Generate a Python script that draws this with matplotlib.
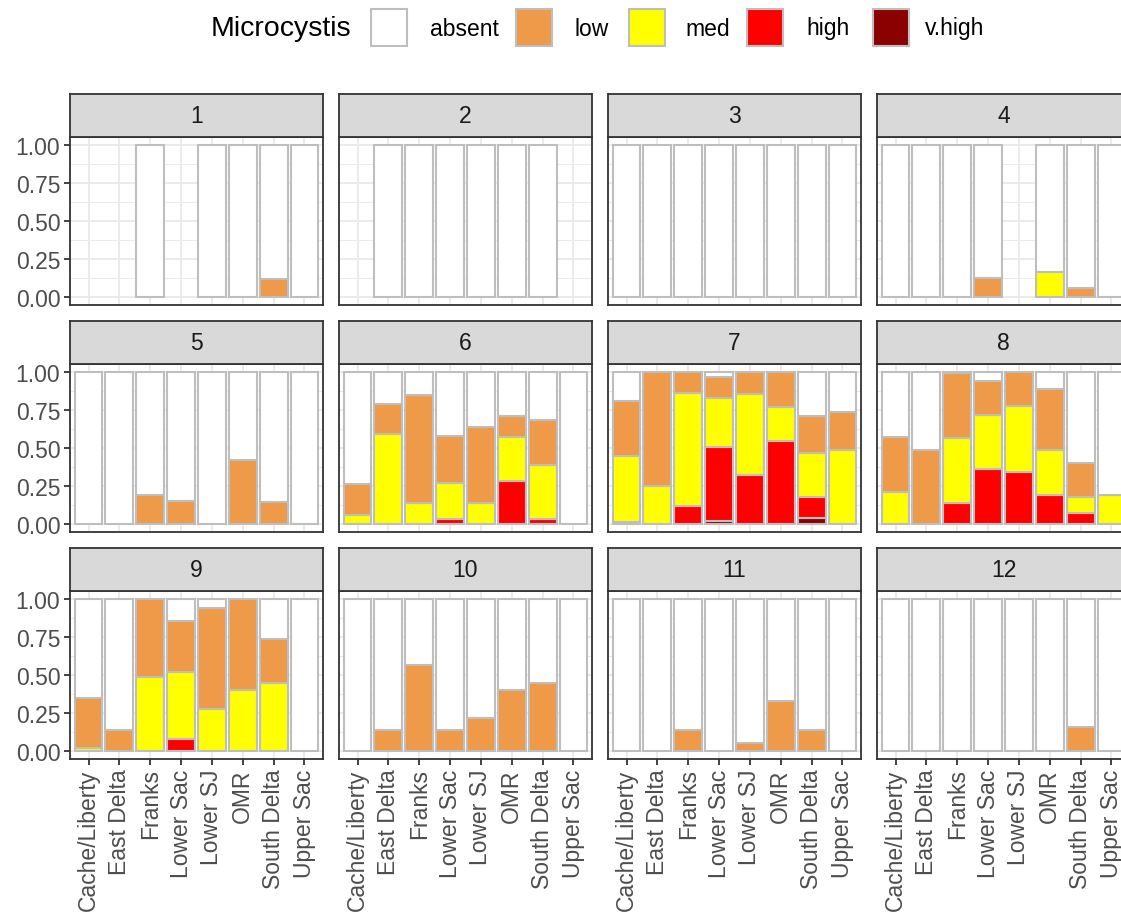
import numpy as np
import matplotlib.pyplot as plt
from matplotlib.patches import Rectangle

plt.rcParams['font.family'] = ['Liberation Sans', 'DejaVu Sans']

sites = ["Cache/Liberty", "East Delta", "Franks", "Lower Sac",
         "Lower SJ", "OMR", "South Delta", "Upper Sac"]
months = [1, 2, 3, 4, 5, 6, 7, 8, 9, 10, 11, 12]
levels = ["absent", "low", "med", "high", "v.high"]
level_colors = ["#FFFFFF", "#EE9A49", "#FFFF00", "#FF0000", "#8B0000"]

n = np.nan
# proportion of samples per level, one row per month, one column per site (nan = no data)
low = [
    [n, n, 0, n, 0, 0, 0.12, 0],
    [n, 0, 0, 0, 0, 0, 0, n],
    [0, 0, 0, 0, 0, 0, 0, 0],
    [0, 0, 0, 0.125, n, 0, 0.057, 0],
    [0, 0, 0.19, 0.15, 0, 0.42, 0.145, 0],
    [0.20, 0.20, 0.71, 0.31, 0.50, 0.14, 0.30, 0],
    [0.36, 0.75, 0.135, 0.135, 0.145, 0.23, 0.24, 0.245],
    [0.36, 0.49, 0.43, 0.225, 0.225, 0.40, 0.225, 0],
    [0.33, 0.14, 0.51, 0.335, 0.665, 0.60, 0.295, 0],
    [0, 0.14, 0.565, 0.14, 0.22, 0.40, 0.45, 0],
    [0, 0, 0.14, 0, 0.05, 0.33, 0.14, 0],
    [0, 0, 0, 0, 0, 0, 0.16, 0],
]
med = [
    [n, n, 0, n, 0, 0, 0, 0],
    [n, 0, 0, 0, 0, 0, 0, n],
    [0, 0, 0, 0, 0, 0, 0, 0],
    [0, 0, 0, 0, n, 0.165, 0, 0],
    [0, 0, 0, 0, 0, 0, 0, 0],
    [0.06, 0.59, 0.14, 0.24, 0.14, 0.29, 0.355, 0],
    [0.44, 0.25, 0.745, 0.325, 0.53, 0.225, 0.29, 0.49],
    [0.21, 0, 0.43, 0.35, 0.43, 0.30, 0.105, 0.19],
    [0.02, 0, 0.49, 0.44, 0.275, 0.40, 0.445, 0],
    [0, 0, 0, 0, 0, 0, 0, 0],
    [0, 0, 0, 0, 0, 0, 0, 0],
    [0, 0, 0, 0, 0, 0, 0, 0],
]
high = [
    [n, n, 0, n, 0, 0, 0, 0],
    [n, 0, 0, 0, 0, 0, 0, n],
    [0, 0, 0, 0, 0, 0, 0, 0],
    [0, 0, 0, 0, n, 0, 0, 0],
    [0, 0, 0, 0, 0, 0, 0, 0],
    [0, 0, 0, 0.03, 0, 0.28, 0.03, 0],
    [0.01, 0, 0.12, 0.485, 0.325, 0.545, 0.14, 0],
    [0, 0, 0.135, 0.365, 0.345, 0.19, 0.07, 0],
    [0, 0, 0, 0.08, 0, 0, 0, 0],
    [0, 0, 0, 0, 0, 0, 0, 0],
    [0, 0, 0, 0, 0, 0, 0, 0],
    [0, 0, 0, 0, 0, 0, 0, 0],
]
vhigh = [
    [n, n, 0, n, 0, 0, 0, 0],
    [n, 0, 0, 0, 0, 0, 0, n],
    [0, 0, 0, 0, 0, 0, 0, 0],
    [0, 0, 0, 0, n, 0, 0, 0],
    [0, 0, 0, 0, 0, 0, 0, 0],
    [0, 0, 0, 0, 0, 0, 0, 0],
    [0, 0, 0, 0.02, 0, 0, 0.04, 0],
    [0, 0, 0, 0, 0, 0, 0, 0],
    [0, 0, 0, 0, 0, 0, 0, 0],
    [0, 0, 0, 0, 0, 0, 0, 0],
    [0, 0, 0, 0, 0, 0, 0, 0],
    [0, 0, 0, 0, 0, 0, 0, 0],
]

low = np.array(low)
med = np.array(med)
high = np.array(high)
vhigh = np.array(vhigh)
absent = 1 - (low + med + high + vhigh)

W, H = 1121, 920
fig = plt.figure(figsize=(W / 100, H / 100), dpi=100)

col_left = [70, 339, 608, 877]
row_top = [138.4, 365.4, 592.4]
pw, ph, sh = 253, 167.2, 43
dark = "#333333"
x = np.arange(1, len(sites) + 1)

for i, m in enumerate(months):
    r, c = divmod(i, 4)
    l, t = col_left[c], row_top[r]
    ax = fig.add_axes([l / W, 1 - (t + ph) / H, pw / W, ph / H])
    ax.set_axisbelow(True)
    ax.set_xlim(0.4, len(sites) + 0.6)
    ax.set_ylim(-0.05, 1.05)
    ax.set_yticks([0, 0.25, 0.5, 0.75, 1.0])
    ax.set_yticks([0.125, 0.375, 0.625, 0.875], minor=True)
    ax.set_xticks(x)
    ax.grid(True, which="major", color="#EBEBEB", linewidth=1.4)
    ax.grid(True, which="minor", axis="y", color="#EBEBEB", linewidth=0.7)

    stacks = [vhigh[i], high[i], med[i], low[i], absent[i]]
    cols = level_colors[::-1]
    ok = ~np.isnan(low[i])
    bottom = np.zeros(len(sites))
    for vals, col in zip(stacks, cols):
        v = np.where(ok, vals, 0)
        show = ok & (v > 0)
        ax.bar(x[show], v[show], bottom=bottom[show], width=0.9,
               color=col, edgecolor="#BEBEBE", linewidth=1.5)
        bottom = bottom + v

    for s in ax.spines.values():
        s.set_color(dark)
        s.set_linewidth(1.3)

    ax.tick_params(which="both", color=dark, width=1.3, length=4.5,
                   labelcolor="#4D4D4D", labelsize=16.5, pad=2.5)
    ax.tick_params(which="minor", length=0)
    if c == 0:
        ax.set_yticklabels(["0.00", "0.25", "0.50", "0.75", "1.00"])
    else:
        ax.tick_params(axis="y", left=False, labelleft=False)
    if r == 2:
        ax.set_xticklabels(sites, rotation=90, va="top", ha="center")
    else:
        ax.tick_params(axis="x", bottom=False, labelbottom=False)

    sax = fig.add_axes([l / W, 1 - t / H, pw / W, sh / H])
    sax.set_facecolor("#D9D9D9")
    sax.set_xticks([])
    sax.set_yticks([])
    for s in sax.spines.values():
        s.set_color(dark)
        s.set_linewidth(1.3)
    sax.text(0.5, 0.5, str(m), ha="center", va="center",
             fontsize=16.5, color="#1A1A1A", transform=sax.transAxes)

# legend across the top
fig.text(211 / W, 1 - 29 / H, "Microcystis", fontsize=20.5,
         ha="left", va="center", color="black")
key_x = [371, 516, 629, 747, 873]
lab_x = [430, 574, 685, 806, 925]
for kx, lx, lab, col in zip(key_x, lab_x, levels, level_colors):
    fig.add_artist(Rectangle((kx / W, 1 - 47 / H), 36 / W, 37 / H,
                             transform=fig.transFigure, facecolor=col,
                             edgecolor="#BEBEBE", linewidth=1.5))
    fig.text(lx / W, 1 - 29 / H, lab, fontsize=16.5, ha="left",
             va="center", color="black")

fig.savefig("out.png", dpi=100)
